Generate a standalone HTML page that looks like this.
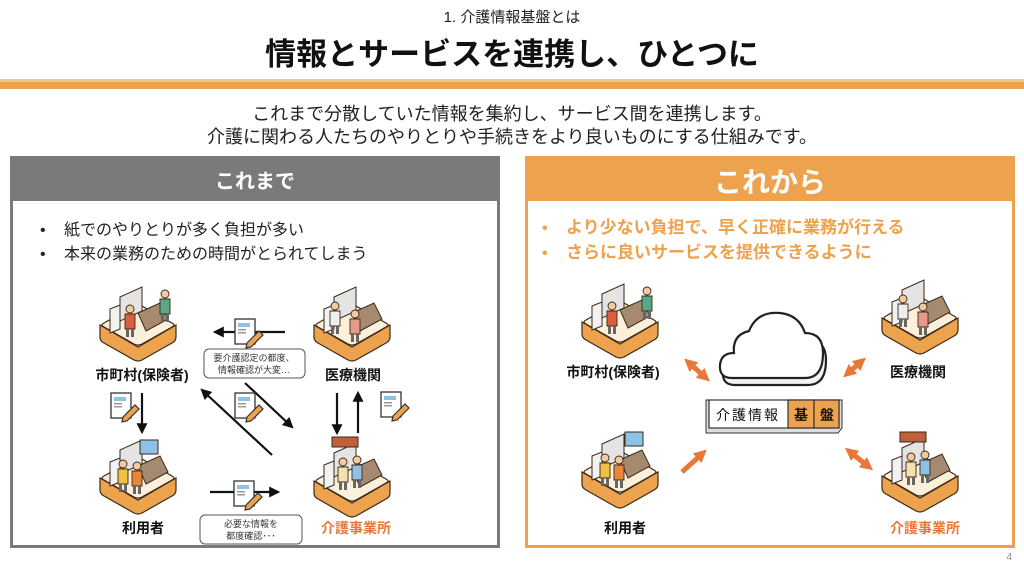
<!DOCTYPE html>
<html><head><meta charset="utf-8"><style>
html,body{margin:0;padding:0;background:#fff}
svg{display:block}
text{font-family:"Liberation Sans","Noto Sans CJK JP",sans-serif}
</style></head><body>
<svg width="1024" height="566" viewBox="0 0 1024 566" xmlns="http://www.w3.org/2000/svg">
<defs>
<g id="tile">
  <path d="M2,40 L40,62 L78,40 L78,52 Q78,56 74,58 L44,75 Q40,77 36,75 L6,58 Q2,56 2,52 Z" fill="#eda24e" stroke="#3a2a1a" stroke-width="1.2"/>
  <path d="M6,38 L36,21 Q40,19 44,21 L74,38 Q78,40 74,42 L44,59 Q40,61 36,59 L6,42 Q2,40 6,38 Z" fill="#fdf0da" stroke="#3a2a1a" stroke-width="1.2"/>
  <path d="M22,12 L44,2 L44,26 L22,36 Z" fill="#e4e4e4" stroke="#3a2a1a" stroke-width="1"/>
  <path d="M40,28 L62,18 L70,34 L48,46 Z" fill="#a58a70" stroke="#3a2a1a" stroke-width="1"/>
  <path d="M12,24 L22,20 L22,44 L12,48 Z" fill="#f2f2f2" stroke="#3a2a1a" stroke-width="1"/>
</g>
<g id="person">
  <circle cx="5" cy="4" r="4" fill="#f3c9a0" stroke="#3a2a1a" stroke-width="0.9"/>
  <path d="M0,9 L10,9 L10,24 L0,24 Z" stroke="#3a2a1a" stroke-width="0.9"/>
  <rect x="1" y="24" width="3" height="8" fill="#666"/><rect x="6" y="24" width="3" height="8" fill="#666"/>
</g>
<g id="doc">
  <rect x="0" y="0" width="20" height="25" fill="#fff" stroke="#333" stroke-width="1.3"/>
  <rect x="3" y="4" width="12" height="4" fill="#8ec1e6"/>
  <rect x="3" y="10" width="8" height="1.5" fill="#999"/>
  <rect x="3" y="13" width="8" height="1.5" fill="#999"/>
  <path d="M12,24 L24,12 L28,16 L16,28 L11,29 Z" fill="#eda24e" stroke="#333" stroke-width="1.2"/>
</g>
<marker id="ah" viewBox="0 0 10 10" refX="8" refY="5" markerWidth="5" markerHeight="5" orient="auto"><path d="M0,0 L10,5 L0,10 Z" fill="#111"/></marker>
<marker id="oa" viewBox="0 0 10 10" refX="6" refY="5" markerWidth="2.6" markerHeight="2.6" orient="auto-start-reverse"><path d="M0,0 L10,5 L0,10 Z" fill="#e8773a"/></marker>
</defs>

<!-- header -->
<text x="512" y="22" font-size="15" text-anchor="middle" fill="#222">1.  介護情報基盤とは</text>
<text x="512" y="65" font-size="31" font-weight="700" text-anchor="middle" fill="#111">情報とサービスを連携し、ひとつに</text>
<rect x="0" y="79" width="1024" height="3" fill="#f6c58c"/>
<rect x="0" y="82" width="1024" height="7" fill="#eda24e"/>
<text x="512" y="120" font-size="18" text-anchor="middle" fill="#222">これまで分散していた情報を集約し、サービス間を連携します。</text>
<text x="512" y="143" font-size="18" text-anchor="middle" fill="#222">介護に関わる人たちのやりとりや手続きをより良いものにする仕組みです。</text>

<!-- left panel -->
<rect x="11.5" y="157.5" width="487" height="389" fill="#fff" stroke="#7a7a7a" stroke-width="3"/>
<rect x="10" y="157" width="490" height="44" fill="#7a7a7a"/>
<text x="255" y="188" font-size="20" font-weight="700" text-anchor="middle" fill="#fff">これまで</text>
<text x="40" y="235" font-size="16" fill="#222">•</text>
<text x="64" y="235" font-size="16" fill="#222">紙でのやりとりが多く負担が多い</text>
<text x="40" y="259" font-size="16" fill="#222">•</text>
<text x="64" y="259" font-size="16" fill="#222">本来の業務のための時間がとられてしまう</text>

<use href="#tile" x="98" y="285"/>
<use href="#tile" x="312" y="285"/>
<use href="#tile" x="98" y="438"/>
<use href="#tile" x="312" y="441"/>
<use href="#person" x="160" y="290" fill="#5aa88a"/>
<use href="#person" x="125" y="305" fill="#d9603a"/>
<use href="#person" x="330" y="302" fill="#eee"/>
<use href="#person" x="350" y="310" fill="#e89a8a"/>
<use href="#person" x="118" y="460" fill="#f0c040"/>
<use href="#person" x="132" y="462" fill="#e8863a"/>
<use href="#person" x="338" y="458" fill="#f5e0b0"/>
<use href="#person" x="352" y="456" fill="#8ec1e6"/>
<rect x="332" y="437" width="26" height="10" fill="#c0603a" stroke="#3a2a1a"/>
<rect x="140" y="440" width="18" height="14" fill="#8ec1e6" stroke="#3a2a1a"/>

<text x="142" y="380" font-size="14" font-weight="700" text-anchor="middle" fill="#111">市町村(保険者)</text>
<text x="353" y="380" font-size="14" font-weight="700" text-anchor="middle" fill="#111">医療機関</text>
<text x="143" y="533" font-size="14" font-weight="700" text-anchor="middle" fill="#111">利用者</text>
<text x="356" y="533" font-size="14" font-weight="700" text-anchor="middle" fill="#e8773a">介護事業所</text>

<g stroke="#111" stroke-width="2.2" fill="none" marker-end="url(#ah)">
<line x1="285" y1="332" x2="215" y2="332"/>
<line x1="272" y1="455" x2="202" y2="390"/>
<line x1="245" y1="383" x2="292" y2="427"/>
<line x1="142" y1="393" x2="142" y2="432"/>
<line x1="337" y1="393" x2="337" y2="433"/>
<line x1="358" y1="433" x2="358" y2="393"/>
<line x1="210" y1="492" x2="278" y2="492"/>
</g>
<use href="#doc" x="235" y="319"/>
<use href="#doc" x="235" y="393"/>
<use href="#doc" x="111" y="393"/>
<use href="#doc" x="381" y="392"/>
<use href="#doc" x="234" y="481"/>

<rect x="204" y="349" width="101" height="29" rx="5" fill="#fff" stroke="#555"/>
<text x="254" y="361" font-size="9" text-anchor="middle" fill="#333">要介護認定の都度、</text>
<text x="254" y="373" font-size="9" text-anchor="middle" fill="#333">情報確認が大変…</text>
<rect x="200" y="515" width="102" height="29" rx="5" fill="#fff" stroke="#555"/>
<text x="251" y="527" font-size="9" text-anchor="middle" fill="#333">必要な情報を</text>
<text x="251" y="539" font-size="9" text-anchor="middle" fill="#333">都度確認･･･</text>

<!-- right panel -->
<rect x="526.5" y="157.5" width="487" height="389" fill="#fff" stroke="#eda24e" stroke-width="3"/>
<rect x="525" y="157" width="490" height="44" fill="#eda24e"/>
<text x="770" y="192" font-size="28" font-weight="700" text-anchor="middle" fill="#fff">これから</text>
<text x="542" y="233" font-size="16" font-weight="700" fill="#eda24e">•</text>
<text x="566" y="233" font-size="17" font-weight="700" fill="#eda24e">より少ない負担で、早く正確に業務が行える</text>
<text x="542" y="258" font-size="16" font-weight="700" fill="#eda24e">•</text>
<text x="566" y="258" font-size="17" font-weight="700" fill="#eda24e">さらに良いサービスを提供できるように</text>

<use href="#tile" x="580" y="282"/>
<use href="#tile" x="880" y="278"/>
<use href="#tile" x="580" y="432"/>
<use href="#tile" x="880" y="436"/>
<use href="#person" x="642" y="287" fill="#5aa88a"/>
<use href="#person" x="607" y="302" fill="#d9603a"/>
<use href="#person" x="898" y="295" fill="#eee"/>
<use href="#person" x="918" y="303" fill="#e89a8a"/>
<use href="#person" x="600" y="454" fill="#f0c040"/>
<use href="#person" x="614" y="456" fill="#e8863a"/>
<use href="#person" x="906" y="453" fill="#f5e0b0"/>
<use href="#person" x="920" y="451" fill="#8ec1e6"/>
<rect x="900" y="432" width="26" height="10" fill="#c0603a" stroke="#3a2a1a"/>
<rect x="625" y="432" width="18" height="14" fill="#8ec1e6" stroke="#3a2a1a"/>

<text x="613" y="377" font-size="14" font-weight="700" text-anchor="middle" fill="#111">市町村(保険者)</text>
<text x="918" y="377" font-size="14" font-weight="700" text-anchor="middle" fill="#111">医療機関</text>
<text x="625" y="533" font-size="14" font-weight="700" text-anchor="middle" fill="#111">利用者</text>
<text x="925" y="533" font-size="14" font-weight="700" text-anchor="middle" fill="#e8773a">介護事業所</text>

<!-- cloud -->
<path d="M735,385 Q722,385 723,372 Q724,360 737,360 Q735,342 752,338 Q760,318 783,320 Q802,322 808,340 Q826,340 826,360 Q826,385 808,385 Z" fill="#f3f3f3" stroke="#222" stroke-width="2.2"/>
<path d="M732,378 Q719,378 720,365 Q721,353 734,353 Q732,335 749,331 Q757,311 780,313 Q799,315 805,333 Q823,333 823,353 Q823,378 805,378 Z" fill="#fff" stroke="#222" stroke-width="2.2"/>

<!-- 介護情報基盤 box -->
<path d="M706,400 L842,400 L842,428 L838,433 L706,433 Z" fill="#ddd" stroke="#333"/>
<rect x="709" y="400" width="130" height="28" fill="#fff" stroke="#333" stroke-width="1.2"/>
<rect x="788" y="400" width="26" height="28" fill="#eda24e" stroke="#333" stroke-width="1.2"/>
<rect x="814" y="400" width="25" height="28" fill="#eda24e" stroke="#333" stroke-width="1.2"/>
<text x="748" y="420" font-size="14" text-anchor="middle" fill="#111" letter-spacing="2">介護情報</text>
<text x="801" y="420" font-size="14" font-weight="700" text-anchor="middle" fill="#111">基</text>
<text x="827" y="420" font-size="14" font-weight="700" text-anchor="middle" fill="#111">盤</text>

<g stroke="#e8773a" stroke-width="5" fill="none">
<line x1="688" y1="362" x2="706" y2="378" marker-start="url(#oa)" marker-end="url(#oa)"/>
<line x1="847" y1="374" x2="862" y2="361" marker-start="url(#oa)" marker-end="url(#oa)"/>
<line x1="849" y1="451" x2="869" y2="467" marker-start="url(#oa)" marker-end="url(#oa)"/>
<line x1="682" y1="472" x2="703" y2="453" marker-end="url(#oa)"/>
</g>

<text x="1012" y="560" font-size="10" fill="#888" text-anchor="end">4</text>
</svg>
</body></html>
